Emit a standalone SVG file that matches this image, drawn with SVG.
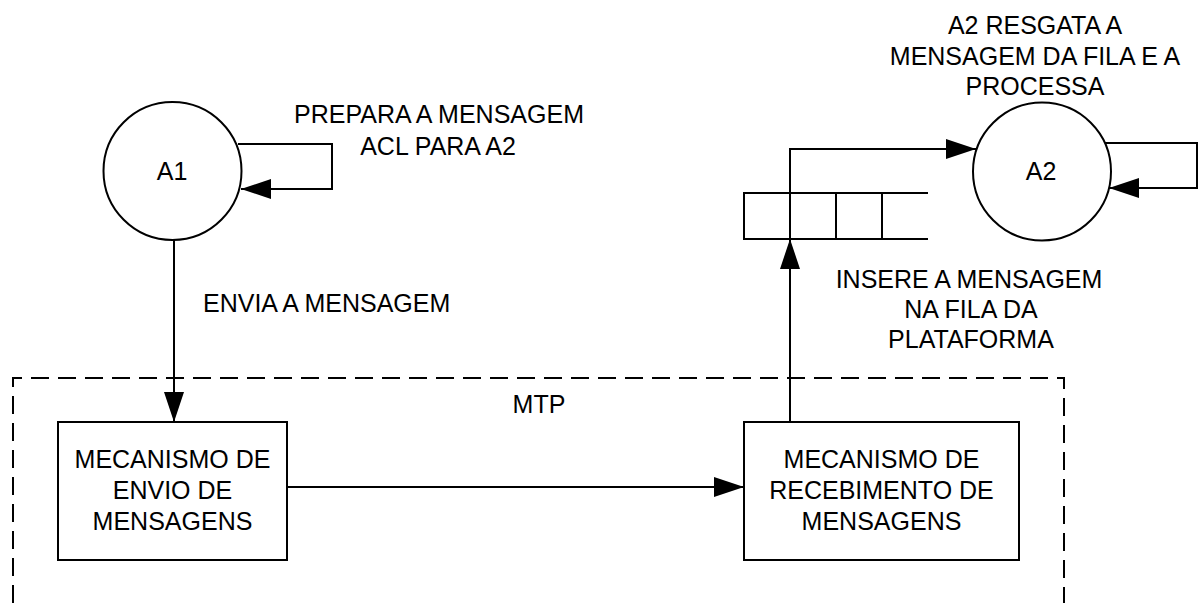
<svg xmlns="http://www.w3.org/2000/svg" width="1198" height="603" viewBox="0 0 1198 603">
<defs>
<style>
.s{fill:none;stroke:#000;stroke-width:2}
.n{fill:#fff;stroke:#000;stroke-width:2}
.t{font-family:"Liberation Sans",Arial,sans-serif;font-size:25px;fill:#000;text-anchor:middle}
.d{fill:none;stroke:#000;stroke-width:2;stroke-dasharray:18 9}
</style>
<marker id="ah" markerUnits="userSpaceOnUse" markerWidth="30" markerHeight="20" refX="30" refY="10" orient="auto">
<path d="M0,0 L30,10 L0,20 z" fill="#000"/>
</marker>
</defs>
<rect width="1198" height="603" fill="#fff"/>
<g id="mtp">
<path class="d" d="M13,603 V378 H1064 V603"/>
<text class="t" x="539" y="413">MTP</text>
</g>
<g id="connectors">
<path class="s" d="M238,144 H332 V189 H241" marker-end="url(#ah)"/>
<path class="s" d="M174,240 V422" marker-end="url(#ah)"/>
<path class="s" d="M287,487 H744" marker-end="url(#ah)"/>
<path class="s" d="M790,422 V239" marker-end="url(#ah)"/>
<path class="s" d="M790,193 V149 H976" marker-end="url(#ah)"/>
<path class="s" d="M1105,143 H1197 V188 H1109" marker-end="url(#ah)"/>
</g>
<g id="A1">
<circle class="n" cx="172.5" cy="171" r="69"/>
<text class="t" x="172" y="180">A1</text>
</g>
<g id="A2">
<circle class="n" cx="1042" cy="171.5" r="69"/>
<text class="t" x="1041" y="180">A2</text>
</g>
<g id="queue">
<path class="s" d="M928,193 H744 V239 H928 M836,193 V239 M882,193 V239 M790,193 V239"/>
</g>
<g id="envio">
<rect class="n" x="58" y="422" width="229" height="138"/>
<text class="t" x="172.5" y="468">MECANISMO DE</text>
<text class="t" x="172.5" y="499">ENVIO DE</text>
<text class="t" x="172.5" y="530">MENSAGENS</text>
</g>
<g id="recebimento">
<rect class="n" x="744" y="422" width="275" height="138"/>
<text class="t" x="881.5" y="468">MECANISMO DE</text>
<text class="t" x="881.5" y="499">RECEBIMENTO DE</text>
<text class="t" x="881.5" y="530">MENSAGENS</text>
</g>
<g id="labels">
<text class="t" x="439" y="123">PREPARA A MENSAGEM</text>
<text class="t" x="438" y="155">ACL PARA A2</text>
<text class="t" x="203" y="312" style="text-anchor:start">ENVIA A MENSAGEM</text>
<text class="t" x="1035" y="34">A2 RESGATA A</text>
<text class="t" x="1035" y="65">MENSAGEM DA FILA E A</text>
<text class="t" x="1035" y="95">PROCESSA</text>
<text class="t" x="969" y="288">INSERE A MENSAGEM</text>
<text class="t" x="971" y="318">NA FILA DA</text>
<text class="t" x="971" y="348">PLATAFORMA</text>
</g>
</svg>
